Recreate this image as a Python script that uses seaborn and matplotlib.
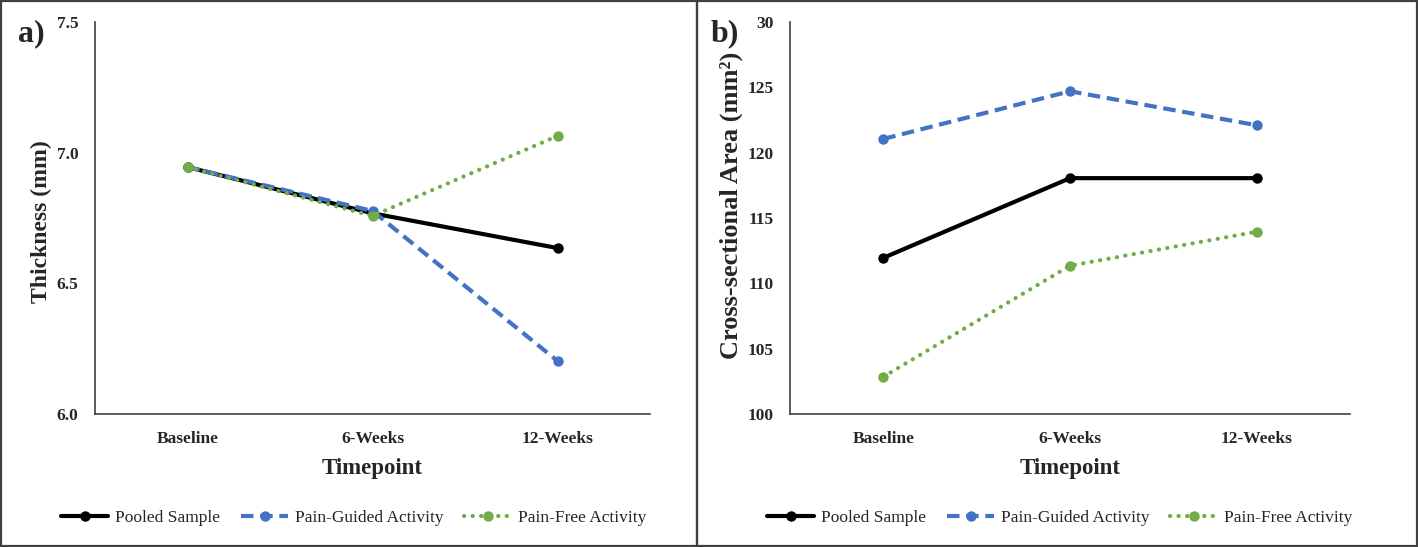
import seaborn as sns
import matplotlib.pyplot as plt
from matplotlib.patches import Rectangle

# data
timepoints = ['Baseline', '6-Weeks', '12-Weeks']
series = ['Pooled Sample', 'Pain-Guided Activity', 'Pain-Free Activity']

thick_pooled = [6.945, 6.768, 6.635]
thick_guided = [6.945, 6.777, 6.203]
thick_free = [6.945, 6.758, 7.064]

csa_pooled = [111.95, 118.05, 118.05]
csa_guided = [121.05, 124.7, 122.1]
csa_free = [102.85, 111.35, 113.95]

thick_ticks = [6.0, 6.5, 7.0, 7.5]
thick_ticklabels = ['6.0', '6.5', '7.0', '7.5']
csa_ticks = [100, 105, 110, 115, 120, 125, 130]
csa_ticklabels = ['100', '105', '110', '115', '120', '125', '30']

sns.set_style('white')
plt.rcParams['font.family'] = ['Liberation Serif', 'DejaVu Serif']

colors = ['black', '#4472C4', '#70AD47']
styles = [
    dict(linestyle='-', solid_capstyle='round'),
    dict(linestyle=(0, (3.0, 1.6)), dash_capstyle='butt'),
    dict(linestyle=(0, (0.05, 2.0)), dash_capstyle='round'),
]

fig = plt.figure(figsize=(14.18, 5.47), dpi=100)

# panel frames
for x0, w in [(0.5, 696.5), (697, 720)]:
    fig.patches.append(Rectangle((x0 / 1418, 1 / 547), w / 1418, 545 / 547,
                                 transform=fig.transFigure, fill=False,
                                 edgecolor='#404040', linewidth=1.6))

ax_a = fig.add_axes([95 / 1418, 133 / 547, 555 / 1418, 392 / 547])
ax_b = fig.add_axes([790 / 1418, 133 / 547, 560 / 1418, 392 / 547])


def draw(ax, values, ylabel, ylsize, ylpos, ylim, ticks, ticklabels, tag, tag_x, leg_x):
    for name, vals, col, st in zip(series, values, colors, styles):
        sns.lineplot(x=timepoints, y=vals, ax=ax, color=col, linewidth=3.0,
                     marker='o', markersize=7.5, markeredgewidth=0,
                     markeredgecolor=col, label=name, sort=False, legend=False, **st)
    ax.set_xlim(-0.5, 2.5)
    ax.set_ylim(*ylim)
    ax.set_yticks(ticks)
    ax.set_yticklabels(ticklabels)
    ax.tick_params(axis='both', length=0, labelsize=12.5)
    ax.tick_params(axis='y', pad=12)
    ax.tick_params(axis='x', pad=12)
    for lab in ax.get_xticklabels() + ax.get_yticklabels():
        lab.set_fontweight('bold')
    sns.despine(ax=ax)
    for s in ['left', 'bottom']:
        ax.spines[s].set_color('#404040')
        ax.spines[s].set_linewidth(1.2)
    ax.set_xlabel('Timepoint', fontsize=16.5, fontweight='bold', labelpad=8)
    ax.set_ylabel(ylabel, fontsize=ylsize, fontweight='bold', labelpad=3)
    ax.yaxis.label.set_y(ylpos)
    fig.text(tag_x / 1418, 1 - 34 / 547, tag, fontsize=23, fontweight='bold',
             ha='left', va='center')
    handles = ax.get_lines()[:3]
    fig.legend(handles, series, loc='center', bbox_to_anchor=(leg_x / 1418, 1 - 518 / 547),
               ncol=3, frameon=False, fontsize=12.5, handlelength=2.7,
               columnspacing=1.2, handletextpad=0.4, numpoints=1)


draw(ax_a, [thick_pooled, thick_guided, thick_free], 'Thickness (mm)', 17, 0.492,
     (6.0, 7.5), thick_ticks, thick_ticklabels, 'a)', 18, 354)
draw(ax_b, [csa_pooled, csa_guided, csa_free], 'Cross-sectional Area (mm²)', 19, 0.533,
     (100, 130), csa_ticks, csa_ticklabels, 'b)', 711, 1060)

fig.savefig('out.png', dpi=100)
